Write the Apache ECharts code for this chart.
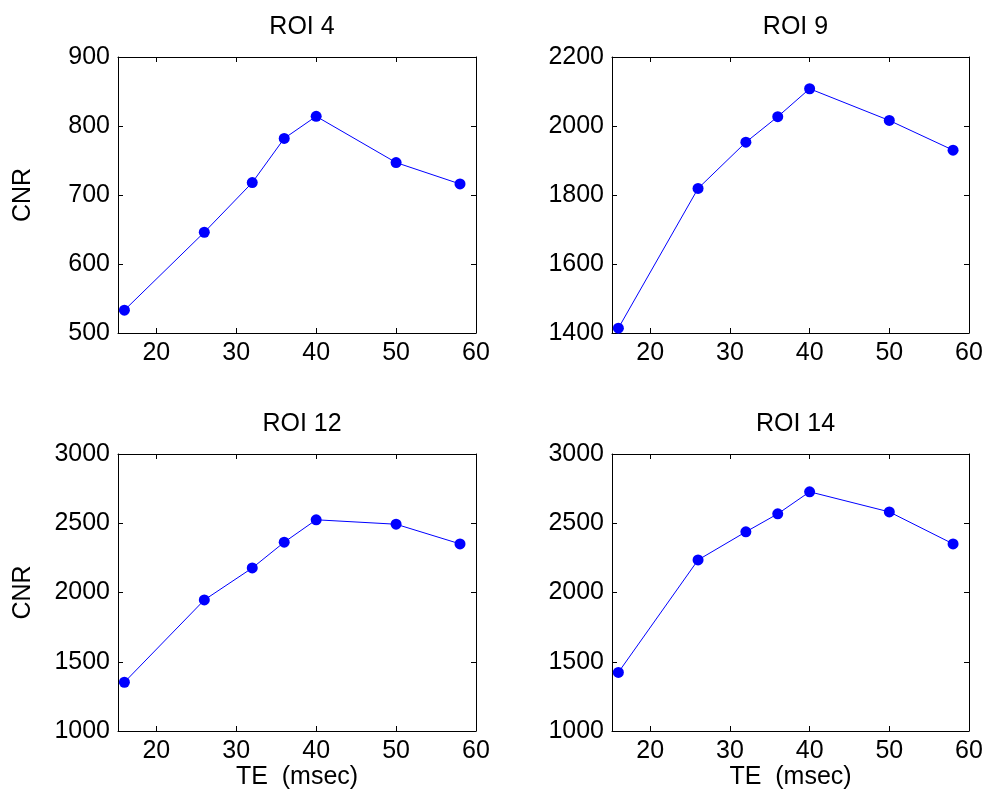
<!DOCTYPE html>
<html>
<head>
<meta charset="utf-8">
<script src="https://cdn.jsdelivr.net/npm/echarts@6/dist/echarts.min.js"></script>
<style>html,body{margin:0;padding:0;background:#fff}#c{width:986px;height:798px}</style>
</head>
<body>
<div id="c"></div>
<script>
// Data
const te = [16, 26, 32, 36, 40, 50, 58];
const roi4 = [533, 646, 718, 782, 814, 747, 716];
const roi9 = [1414, 1819, 1953, 2027, 2108, 2016, 1930];
const roi12 = [1352, 1946, 2177, 2363, 2525, 2493, 2351];
const roi14 = [1423, 2235, 2438, 2568, 2727, 2582, 2351];
const titles = ['ROI 4', 'ROI 9', 'ROI 12', 'ROI 14'];
const xTicks = [20, 30, 40, 50, 60];
const yRanges = [[500, 900, 100], [1400, 2200, 200], [1000, 3000, 500], [1000, 3000, 500]];
const seriesData = [roi4, roi9, roi12, roi14];

const FONT = "'Liberation Sans', Arial, Helvetica, sans-serif";
const FS = 25;
const grids = [
  {left: 118, top: 57, width: 358, height: 276},
  {left: 612, top: 57, width: 357, height: 276},
  {left: 118, top: 454, width: 358, height: 277},
  {left: 612, top: 454, width: 357, height: 277}
];
const XMIN = 15.2, XMAX = 60;

const option = {
  animation: false,
  backgroundColor: '#fff',
  title: [], grid: [], xAxis: [], yAxis: [], series: []
};
const lineStyle = {color: '#000', width: 1};
grids.forEach((g, i) => {
  option.grid.push({left: g.left, top: g.top, width: g.width, height: g.height, containLabel: false});
  option.title.push({
    text: titles[i], left: g.left + g.width / 2, top: g.top - 47, textAlign: 'center',
    textStyle: {fontFamily: FONT, fontSize: FS, fontWeight: 'normal', color: '#000'}
  });
  const bottomRow = i >= 2, leftCol = i % 2 === 0;
  option.xAxis.push({
    type: 'value', gridIndex: i, min: XMIN, max: XMAX, position: 'bottom',
    axisLine: {show: true, onZero: false, lineStyle},
    axisTick: {show: true, inside: true, length: 5, customValues: xTicks, lineStyle},
    axisLabel: {show: true, customValues: xTicks, fontFamily: FONT, fontSize: FS, color: '#000', margin: 8,
      formatter: v => String(v)},
    splitLine: {show: false},
    name: bottomRow ? 'TE  (msec)' : '', nameLocation: 'middle', nameGap: 33,
    nameTextStyle: {fontFamily: FONT, fontSize: FS, color: '#000'}
  });
  option.xAxis.push({
    type: 'value', gridIndex: i, min: XMIN, max: XMAX, position: 'top',
    axisLine: {show: true, onZero: false, lineStyle},
    axisTick: {show: true, inside: true, length: 5, customValues: xTicks, lineStyle},
    axisLabel: {show: false}, splitLine: {show: false}
  });
  const [ymin, ymax, yint] = yRanges[i];
  option.yAxis.push({
    type: 'value', gridIndex: i, min: ymin, max: ymax, interval: yint, position: 'left',
    axisLine: {show: true, onZero: false, lineStyle},
    axisTick: {show: true, inside: true, length: 5, lineStyle},
    axisLabel: {show: true, fontFamily: FONT, fontSize: FS, color: '#000', margin: 8,
      formatter: v => String(v)},
    splitLine: {show: false},
    name: leftCol ? 'CNR' : '', nameLocation: 'middle', nameGap: 82, nameRotate: 90,
    nameTextStyle: {fontFamily: FONT, fontSize: FS, color: '#000'}
  });
  option.yAxis.push({
    type: 'value', gridIndex: i, min: ymin, max: ymax, interval: yint, position: 'right',
    axisLine: {show: true, onZero: false, lineStyle},
    axisTick: {show: true, inside: true, length: 5, lineStyle},
    axisLabel: {show: false}, splitLine: {show: false}
  });
  option.series.push({
    type: 'line', xAxisIndex: i * 2, yAxisIndex: i * 2,
    data: te.map((t, k) => [t, seriesData[i][k]]),
    symbol: 'circle', symbolSize: 11,
    lineStyle: {color: '#0000ff', width: 1},
    itemStyle: {color: '#0000ff'},
    clip: false
  });
});

const chart = echarts.init(document.getElementById('c'), null, {renderer: 'canvas'});
chart.setOption(option);
</script>
</body>
</html>
